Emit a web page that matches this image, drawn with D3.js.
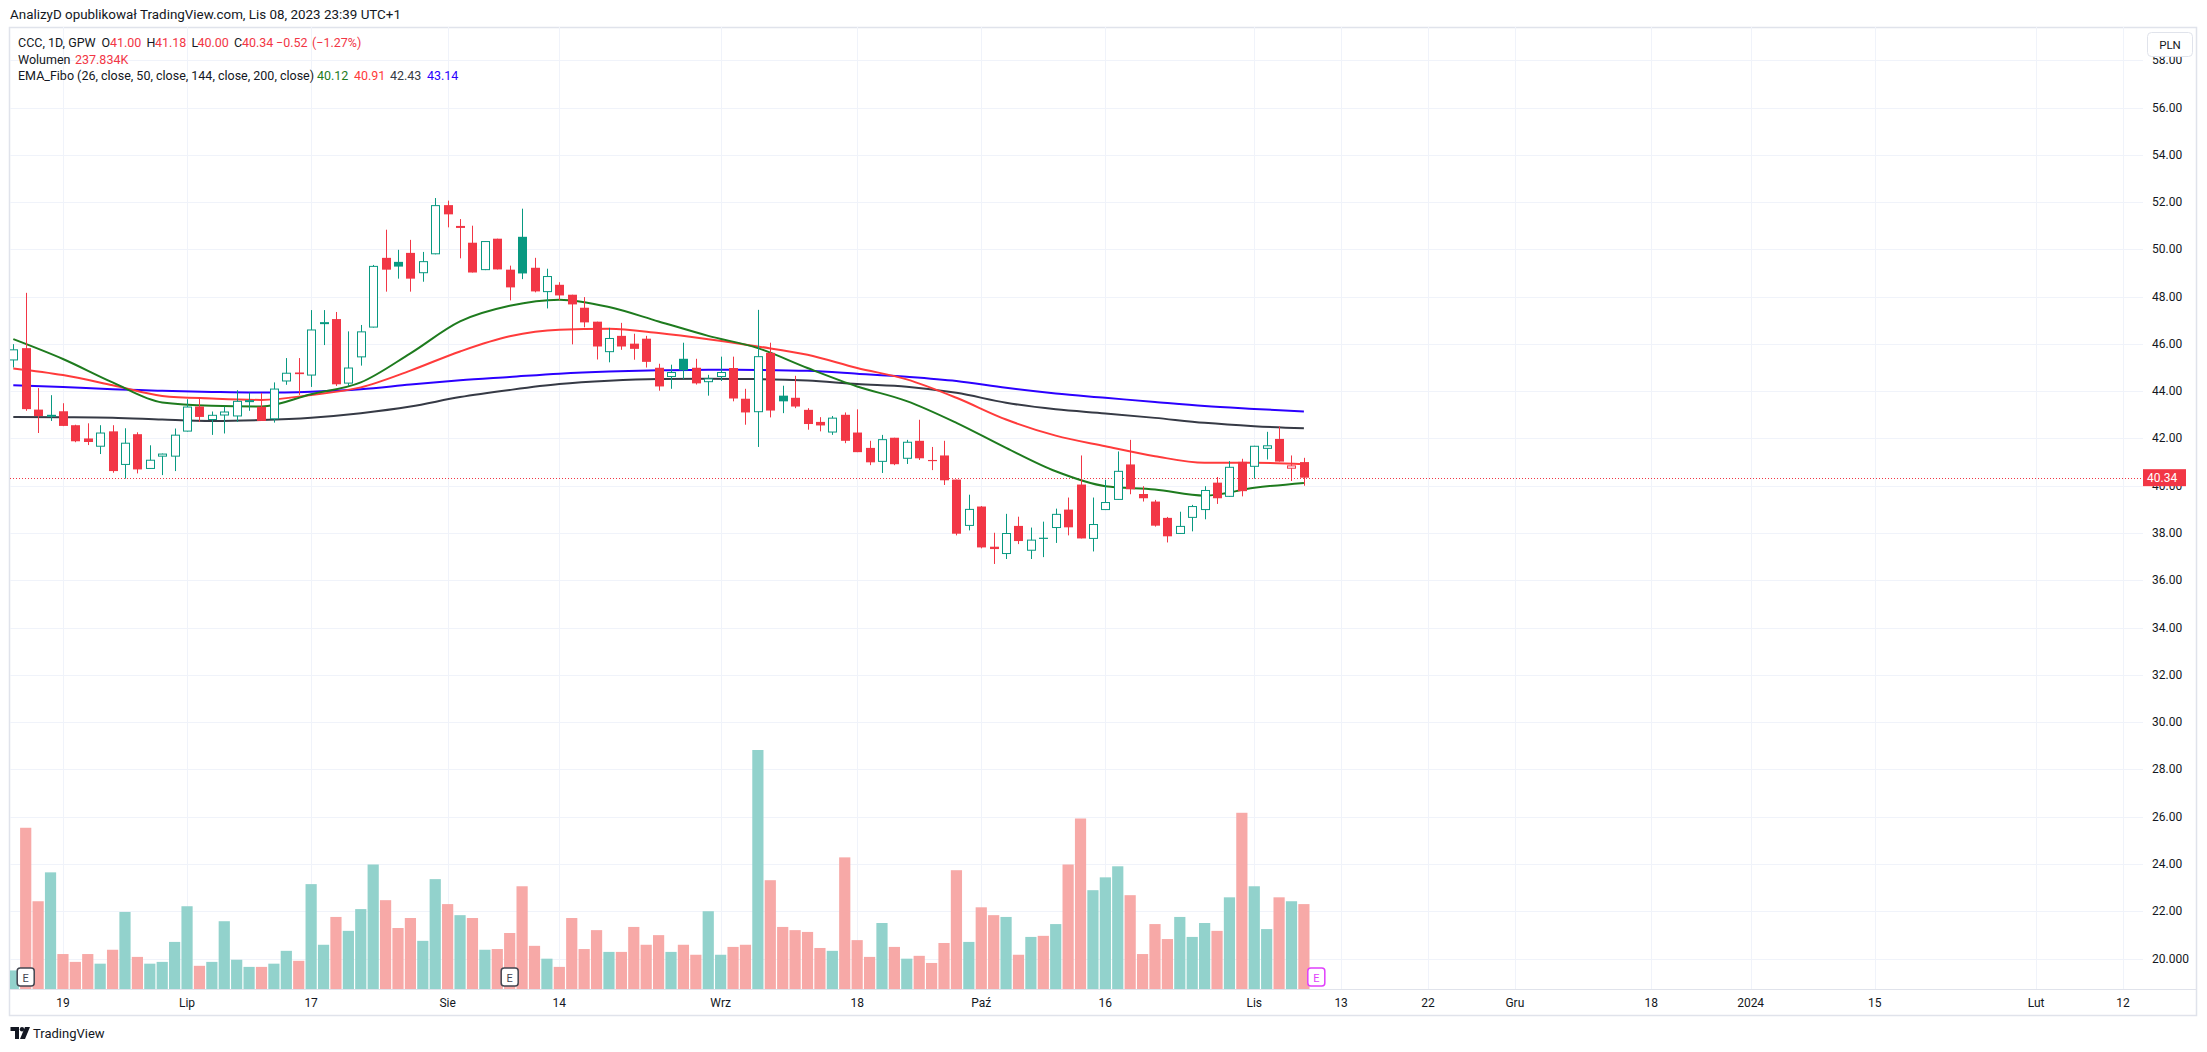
<!DOCTYPE html>
<html>
<head>
<meta charset="utf-8">
<script src="https://cdn.jsdelivr.net/npm/d3@7"></script>
<style>
  body { margin: 0; background: #fff; }
  svg { display: block; font-family: Roboto, "Noto Sans", sans-serif; }
</style>
</head>
<body>
<div id="chart"></div>
<script>
// CCC, 1D, GPW — daily bars 13 Jun 2023 .. 8 Nov 2023 (index 0..104)
const opens = [45.30,45.82,43.22,42.97,43.15,42.56,42.00,41.65,42.30,40.88,42.18,40.71,41.23,41.23,42.29,43.35,42.78,42.97,42.93,43.60,
  43.34,42.81,44.41,44.79,44.66,46.90,47.05,44.32,45.43,46.69,49.64,49.47,49.85,48.99,49.79,51.87,50.97,50.28,49.12,50.45,
  49.14,50.53,49.22,48.19,48.50,48.08,47.53,46.94,45.65,46.34,46.01,46.22,44.99,44.60,45.37,44.99,44.38,44.60,44.98,43.68,
  43.11,45.62,43.81,43.72,43.21,42.70,42.25,43.00,42.25,41.60,41.01,42.03,41.14,41.90,41.09,41.28,40.26,38.30,39.12,37.42,
  37.11,38.30,37.25,37.80,38.21,38.99,40.05,37.75,38.97,39.40,40.90,39.65,39.33,38.64,37.96,38.64,38.97,40.13,39.53,41.01,
  40.80,41.56,41.98,40.72,41.00];
const highs = [45.99,48.16,44.13,43.83,43.49,42.58,42.64,42.56,42.56,42.43,42.26,41.71,41.36,42.42,43.66,43.73,43.14,43.34,44.04,43.94,
  43.92,44.37,45.40,45.40,47.43,47.43,47.35,46.53,46.80,49.34,50.83,49.98,50.40,49.89,52.17,52.06,51.28,51.00,50.35,50.45,
  49.31,51.72,49.64,49.18,48.61,48.08,47.98,46.94,46.68,46.89,46.43,46.34,45.16,45.12,46.05,45.37,44.69,45.46,45.46,44.10,
  47.44,46.05,44.23,44.65,43.28,42.90,42.95,43.10,43.23,41.90,42.15,42.03,41.94,42.79,41.64,41.90,40.26,39.62,39.14,38.01,
  38.81,38.69,38.23,38.48,39.03,39.50,41.28,39.50,40.25,41.45,41.94,39.98,39.40,38.68,38.90,39.19,39.98,40.37,41.04,41.14,
  41.69,42.28,42.51,41.28,41.18];
const lows = [45.00,43.17,42.23,42.74,42.52,41.84,41.72,41.34,40.55,40.30,40.52,40.71,40.45,40.62,42.29,42.70,42.15,42.21,42.70,43.17,
  42.74,42.67,44.27,43.84,44.18,45.95,44.22,44.22,45.08,46.69,48.21,48.76,48.21,48.63,49.79,50.93,49.62,49.02,49.12,49.15,
  47.84,48.74,48.18,47.50,47.85,45.98,46.70,45.34,45.22,45.75,45.33,45.00,44.02,44.10,44.51,44.28,43.81,44.43,43.57,42.58,
  41.64,42.89,43.07,43.28,42.37,42.30,42.15,41.80,41.42,40.87,40.54,40.87,40.92,41.09,40.66,40.03,37.90,38.11,37.35,36.69,
  36.90,37.53,36.90,36.98,37.58,37.90,37.77,37.22,38.97,39.40,39.64,39.33,38.27,37.60,37.96,38.07,38.58,39.23,39.53,39.55,
  40.30,41.11,41.02,40.20,40.00];
const closes = [45.77,43.24,42.95,43.00,42.53,41.88,41.85,42.25,40.62,41.82,40.69,41.10,41.36,42.16,43.35,42.91,43.00,43.14,43.59,43.62,
  42.74,44.11,44.78,44.72,46.61,46.92,44.29,45.00,46.53,49.30,49.14,49.27,48.76,49.50,51.87,51.48,50.99,49.02,50.35,49.15,
  48.39,48.98,48.22,48.87,48.05,47.67,46.91,45.89,46.25,45.89,45.79,45.24,44.20,44.81,44.88,44.33,44.54,44.81,43.69,43.10,
  45.48,43.18,43.57,43.35,42.61,42.55,42.88,41.90,41.42,40.99,41.97,40.91,41.86,41.16,41.04,40.23,37.97,39.02,37.39,37.32,
  38.00,37.66,37.72,37.75,38.81,38.24,37.77,38.38,39.31,40.63,39.85,39.47,38.31,37.86,38.30,39.14,39.82,39.47,40.80,39.77,
  41.69,41.71,41.02,40.86,40.34];
// volume in thousands
const volumes = [52,452,246,327,98,76,98,71,110,216,90,71,76,132,232,65,76,190,82,62,
  62,71,107,79,294,124,202,163,224,349,249,171,199,135,308,238,207,199,110,112,
  157,288,121,85,62,199,112,165,104,104,174,124,151,104,124,96,218,96,118,124,
  670,305,174,165,160,115,107,369,137,90,185,118,85,93,73,129,333,132,229,207,
  202,96,146,149,182,349,478,277,313,344,263,98,182,140,202,146,185,163,257,494,
  288,168,257,246,238];

// EMA_Fibo lines at these bar indices
const emaIdx = [0,4,8,12,16,20,24,28,32,36,40,44,48,52,56,60,64,68,72,76,80,84,88,92,96,100,104];
const ema26 = [46.20,45.36,44.37,43.52,43.38,43.35,43.87,44.37,45.60,46.95,47.61,47.87,47.56,46.95,46.34,45.82,44.98,44.20,43.58,42.66,41.60,40.61,39.98,39.84,39.58,39.91,40.12];
const ema50 = [44.96,44.68,44.25,43.80,43.69,43.63,43.84,44.16,44.87,45.68,46.32,46.60,46.64,46.46,46.20,45.89,45.54,44.98,44.50,43.72,42.80,42.12,41.67,41.25,40.97,40.97,40.91];
const ema144 = [42.91,42.90,42.88,42.80,42.74,42.78,42.88,43.07,43.35,43.75,44.05,44.30,44.44,44.51,44.52,44.51,44.45,44.30,44.19,43.93,43.51,43.23,43.06,42.87,42.66,42.52,42.43];
const ema200 = [44.25,44.18,44.08,44.02,43.97,43.94,43.98,44.08,44.28,44.46,44.60,44.74,44.83,44.88,44.91,44.90,44.86,44.74,44.61,44.43,44.14,43.90,43.72,43.54,43.37,43.25,43.14];

// axis ticks
const priceTicks = [20,22,24,26,28,30,32,34,36,38,40,42,44,46,48,50,52,54,56,58];
const priceTickLabels = ["20.000","22.00","24.00","26.00","28.00","30.00","32.00","34.00","36.00","38.00",
  "40.00","42.00","44.00","46.00","48.00","50.00","52.00","54.00","56.00","58.00"];
const timeTickIdx = [4,14,24,35,44,57,68,78,88,100,107,114,121,132,140,150,163,170];
const timeTickLabels = ["19","Lip","17","Sie","14","Wrz","18","Paź","16","Lis","13","22","Gru","18","2024","15","Lut","12"];
const earningsIdx = [1,40,105];

const lastPrice = 40.34;

const W = 2207, H = 1052;
const pane = { left: 10, right: 2143, top: 27, bottom: 989 };
const green = "#089981", red = "#F23645", txt = "#131722";

const svg = d3.select("#chart").append("svg")
  .attr("width", W).attr("height", H);

const x = d3.scaleLinear().domain([0, 104]).range([13.3, 1303.9]);
const y = d3.scaleLinear().domain([20, 56]).range([958.5, 107.5]);
const yVol = d3.scaleLinear().domain([0, d3.max(volumes)]).range([pane.bottom, 750]);

svg.append("defs").append("clipPath").attr("id", "pane")
  .append("rect")
  .attr("x", pane.left).attr("y", pane.top)
  .attr("width", pane.right - pane.left).attr("height", pane.bottom - pane.top);

// outer frame
svg.append("rect")
  .attr("x", 9.5).attr("y", 27.5)
  .attr("width", 2187).attr("height", 988)
  .attr("fill", "none").attr("stroke", "#E0E3EB").attr("stroke-width", 1.5);

// gridlines
const grid = svg.append("g").attr("clip-path", "url(#pane)");
grid.selectAll(".hgrid").data(priceTicks).enter().append("line")
  .attr("x1", pane.left).attr("x2", pane.right)
  .attr("y1", d => Math.round(y(d)) + 0.5).attr("y2", d => Math.round(y(d)) + 0.5)
  .attr("stroke", "#F0F3FA").attr("stroke-width", 1);
grid.selectAll(".vgrid").data(timeTickIdx).enter().append("line")
  .attr("x1", d => Math.round(x(d)) + 0.5).attr("x2", d => Math.round(x(d)) + 0.5)
  .attr("y1", pane.top).attr("y2", pane.bottom)
  .attr("stroke", "#F0F3FA").attr("stroke-width", 1);

const plot = svg.append("g").attr("clip-path", "url(#pane)");
const idx = d3.range(opens.length);

// volume
plot.append("g").selectAll("rect").data(idx).enter().append("rect")
  .attr("x", i => x(i) - 5.6)
  .attr("width", 11.2)
  .attr("y", i => yVol(volumes[i]))
  .attr("height", i => pane.bottom - yVol(volumes[i]))
  .attr("fill", i => closes[i] >= opens[i] ? "#92D2CC" : "#F7A9A7");

// earnings markers
const eg = svg.append("g");
earningsIdx.forEach(i => {
  const c = i > 104 ? "#E040FB" : "#434651";
  eg.append("rect")
    .attr("x", x(i) - 8.5).attr("y", 968)
    .attr("width", 17).attr("height", 18).attr("rx", 3)
    .attr("fill", "#fff").attr("stroke", c).attr("stroke-width", 1.5);
  eg.append("text")
    .attr("x", x(i)).attr("y", 981.5)
    .attr("text-anchor", "middle").attr("font-size", 11)
    .attr("fill", c).text("E");
});

// last price dotted line
plot.append("line")
  .attr("x1", pane.left).attr("x2", pane.right)
  .attr("y1", Math.round(y(lastPrice)) + 0.5).attr("y2", Math.round(y(lastPrice)) + 0.5)
  .attr("stroke", red).attr("stroke-width", 1).attr("stroke-dasharray", "1,2");

// EMA lines
const emaLine = vals => d3.line()
  .x((d, k) => x(emaIdx[k]))
  .y(d => y(d))
  .curve(d3.curveMonotoneX)(vals);
[[ema200, "#2B00FF"], [ema144, "#363A45"], [ema50, "#FF3B3B"], [ema26, "#1E7B1E"]].forEach(([vals, col]) => {
  plot.append("path")
    .attr("d", emaLine(vals))
    .attr("fill", "none")
    .attr("stroke", col)
    .attr("stroke-width", 2);
});

// candles (hollow style)
const candles = plot.append("g").selectAll("g").data(idx).enter().append("g");
const candleColor = i => (i === 0 || closes[i] >= closes[i - 1]) ? green : red;
candles.append("line")
  .attr("x1", i => Math.round(x(i)) + 0.5).attr("x2", i => Math.round(x(i)) + 0.5)
  .attr("y1", i => y(highs[i])).attr("y2", i => y(lows[i]))
  .attr("stroke", candleColor).attr("stroke-width", 1);
candles.append("rect")
  .each(function(i) {
    const cx = Math.round(x(i));
    const top = y(Math.max(opens[i], closes[i]));
    const h = Math.max(1, y(Math.min(opens[i], closes[i])) - top);
    const hollow = closes[i] > opens[i];
    d3.select(this)
      .attr("x", hollow ? cx - 3.5 : cx - 4)
      .attr("width", hollow ? 8 : 9)
      .attr("y", hollow ? top + 0.5 : top)
      .attr("height", hollow ? Math.max(1, h - 1) : h)
      .attr("fill", hollow ? "#fff" : candleColor(i))
      .attr("stroke", hollow ? candleColor(i) : "none")
      .attr("stroke-width", 1);
  });

// price axis labels
svg.append("g").selectAll("text").data(priceTicks).enter().append("text")
  .attr("x", 2152).attr("y", d => y(d) + 4)
  .attr("font-size", 12).attr("fill", txt)
  .text((d, k) => priceTickLabels[k]);

// last price tag
svg.append("rect")
  .attr("x", 2143).attr("y", y(lastPrice) - 8.5)
  .attr("width", 43).attr("height", 17).attr("fill", red);
svg.append("text")
  .attr("x", 2147).attr("y", y(lastPrice) + 4.5)
  .attr("font-size", 12).attr("fill", "#fff")
  .text(lastPrice.toFixed(2));

// currency button
svg.append("rect")
  .attr("x", 2147.5).attr("y", 32.5).attr("width", 45).attr("height", 24).attr("rx", 4)
  .attr("fill", "#fff").attr("stroke", "#E0E3EB");
svg.append("text")
  .attr("x", 2170).attr("y", 49).attr("text-anchor", "middle")
  .attr("font-size", 11.5).attr("fill", txt).text("PLN");

// time axis
svg.append("line")
  .attr("x1", pane.left).attr("x2", 2196)
  .attr("y1", pane.bottom + 0.5).attr("y2", pane.bottom + 0.5)
  .attr("stroke", "#E0E3EB");
svg.append("g").selectAll("text").data(timeTickIdx).enter().append("text")
  .attr("x", d => x(d)).attr("y", 1007)
  .attr("text-anchor", "middle").attr("font-size", 12).attr("fill", txt)
  .text((d, k) => timeTickLabels[k]);

// header
svg.append("text")
  .attr("x", 10).attr("y", 19)
  .attr("font-size", 13.4).attr("fill", txt)
  .text("AnalizyD opublikował TradingView.com, Lis 08, 2023 23:39 UTC+1");

const legend = svg.append("g").attr("font-size", 12.5);
const put = (tx, xx, yy, col) => legend.append("text").attr("x", xx).attr("y", yy).attr("fill", col).text(tx);
put("CCC, 1D, GPW", 18, 46.5, txt);
put("O", 101.5, 46.5, txt); put("41.00", 110, 46.5, red);
put("H", 146.5, 46.5, txt); put("41.18", 155, 46.5, red);
put("L", 191.5, 46.5, txt); put("40.00", 197.5, 46.5, red);
put("C", 234, 46.5, txt); put("40.34", 242, 46.5, red);
put("\u22120.52", 276, 46.5, red); put("(\u22121.27%)", 312, 46.5, red);
put("Wolumen", 18, 63.5, txt); put("237.834K", 75, 63.5, red);
put("EMA_Fibo (26, close, 50, close, 144, close, 200, close)", 18, 80, txt);
put("40.12", 317, 80, "#1E7B1E");
put("40.91", 354, 80, "#FF3B3B");
put("42.43", 390, 80, "#363A45");
put("43.14", 427, 80, "#2B00FF");

// footer logo
const logo = svg.append("g").attr("fill", txt);
logo.append("path").attr("d", "M10.5,1027 h8.5 v12 h-4 v-8 h-4.5 z");
logo.append("circle").attr("cx", 22).attr("cy", 1029.3).attr("r", 2.2);
logo.append("path").attr("d", "M25,1027 h5 l-5,12 h-5 z");
logo.append("text").attr("x", 33).attr("y", 1037.5).attr("font-size", 13).text("TradingView");
</script>
</body>
</html>
